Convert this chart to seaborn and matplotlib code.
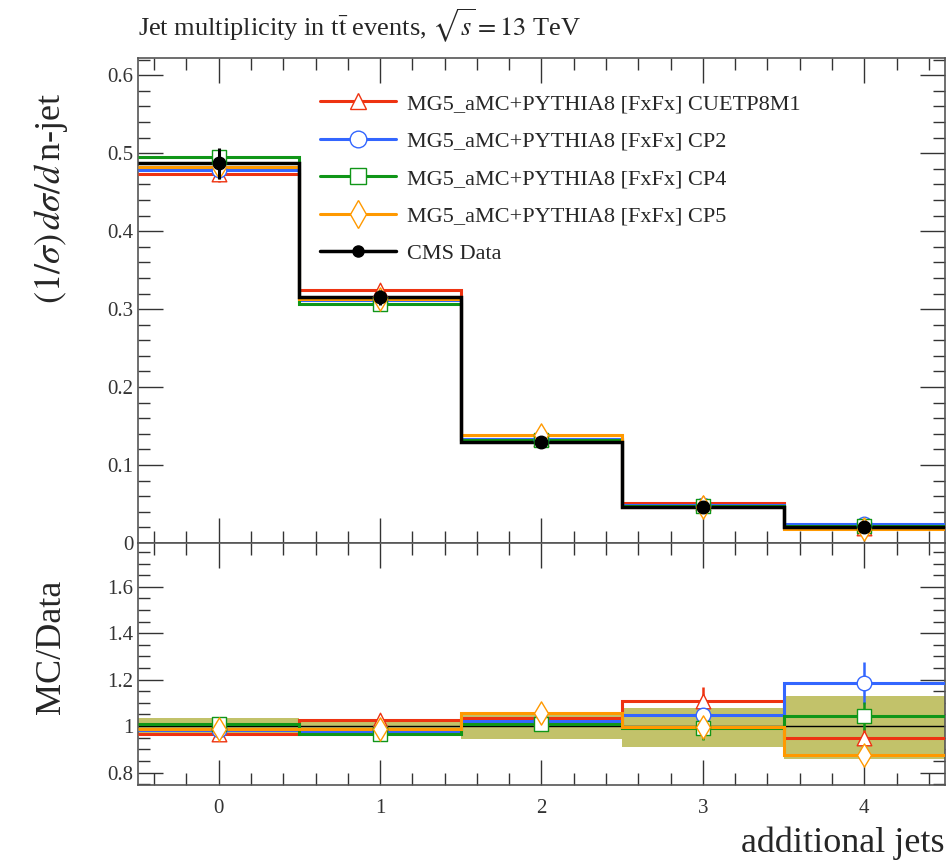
import matplotlib
matplotlib.use("Agg")
import matplotlib.pyplot as plt
import numpy as np
import pandas as pd
import seaborn as sns
from matplotlib.lines import Line2D
from matplotlib.ticker import MultipleLocator

sns.set_theme(style="ticks")
plt.rcParams["font.family"] = ["Liberation Serif", "DejaVu Serif"]
plt.rcParams["mathtext.fontset"] = "stix"

# ---- data ----
N_JETS = [0, 1, 2, 3, 4]

DATA_VAL = [0.487, 0.315, 0.130, 0.046, 0.0205]
DATA_ERR = [0.020, 0.010, 0.004, 0.003, 0.002]

LABELS = [
    "MG5_aMC+PYTHIA8 [FxFx] CUETP8M1",
    "MG5_aMC+PYTHIA8 [FxFx] CP2",
    "MG5_aMC+PYTHIA8 [FxFx] CP4",
    "MG5_aMC+PYTHIA8 [FxFx] CP5",
]
COLORS = ["#EE3311", "#3366FF", "#109618", "#FF9900"]
MARKERS = ["^", "o", "s", "d"]

MC_CUETP8M1 = [0.473, 0.324, 0.134, 0.051, 0.0195]
MC_CP2 = [0.479, 0.312, 0.133, 0.049, 0.0245]
MC_CP4 = [0.495, 0.306, 0.132, 0.047, 0.0215]
MC_CP5 = [0.482, 0.313, 0.138, 0.046, 0.0180]
MC_ERR = [0.010, 0.006, 0.003, 0.002, 0.002]

RATIO_CUETP8M1 = [0.965, 1.025, 1.035, 1.110, 0.950]
RATIO_CP2 = [0.982, 0.980, 1.023, 1.047, 1.187]
RATIO_CP4 = [1.010, 0.966, 1.009, 0.990, 1.043]
RATIO_CP5 = [0.987, 0.987, 1.057, 0.997, 0.875]
RATIO_ERR_CUETP8M1 = [0.02, 0.02, 0.02, 0.06, 0.04]
RATIO_ERR_CP2 = [0.02, 0.02, 0.02, 0.04, 0.09]
RATIO_ERR_CP4 = [0.02, 0.02, 0.03, 0.05, 0.06]
RATIO_ERR_CP5 = [0.02, 0.02, 0.02, 0.04, 0.04]

BAND_LO = [0.962, 0.970, 0.945, 0.910, 0.857]
BAND_HI = [1.035, 1.020, 1.050, 1.076, 1.130]
DATA_RATIO = [1.0, 1.0, 1.0, 1.0, 1.0]

MC_VALS = [MC_CUETP8M1, MC_CP2, MC_CP4, MC_CP5]
RATIO_VALS = [RATIO_CUETP8M1, RATIO_CP2, RATIO_CP4, RATIO_CP5]
RATIO_ERRS = [RATIO_ERR_CUETP8M1, RATIO_ERR_CP2, RATIO_ERR_CP4, RATIO_ERR_CP5]

edges = np.append(np.array(N_JETS) - 0.5, N_JETS[-1] + 0.5)


def style_axis(ax):
    ax.tick_params(which="both", direction="in", top=True, right=True, labelsize=15,
                   colors="#333333")
    ax.tick_params(which="major", length=18, width=1)
    ax.tick_params(which="minor", length=8.5, width=1)
    ax.xaxis.set_major_locator(MultipleLocator(1))
    ax.xaxis.set_minor_locator(MultipleLocator(0.2))
    ax.set_xlim(-0.5, 4.5)
    for sp in ax.spines.values():
        sp.set_linewidth(1.2)
        sp.set_color("#555555")


def draw_points(ax, x, y, err, color, marker, ms):
    df = pd.DataFrame({"x": x, "y": y})
    ax.errorbar(x, y, yerr=err, fmt="none", ecolor=color, elinewidth=1.8, zorder=4)
    sns.scatterplot(data=df, x="x", y="y", marker=marker, s=ms, facecolor="white",
                    edgecolor=color, linewidth=1.0, ax=ax, zorder=5, legend=False)


fig = plt.figure(figsize=(9.53, 8.64), dpi=100)
ax = fig.add_axes([0.1448, 0.3715, 0.8468, 0.5613])
rax = fig.add_axes([0.1448, 0.0914, 0.8468, 0.2801], sharex=ax)

# ---- main panel ----
for vals, c, m in zip(MC_VALS, COLORS, MARKERS):
    ax.stairs(vals, edges, color=c, linewidth=2.2, baseline=None, zorder=3)
    draw_points(ax, N_JETS, vals, MC_ERR, c, m, 110 if m != "d" else 140)
ax.stairs(DATA_VAL, edges, color="black", linewidth=2.5, baseline=None, zorder=3.5)
ax.errorbar(N_JETS, DATA_VAL, yerr=DATA_ERR, fmt="o", color="black", ms=9,
            elinewidth=2.2, zorder=6)

style_axis(ax)
ax.set_ylim(0, 0.622)
ax.set_yticks([0, 0.1, 0.2, 0.3, 0.4, 0.5, 0.6])
ax.set_yticklabels(["0", "0.1", "0.2", "0.3", "0.4", "0.5", "0.6"])
ax.yaxis.set_minor_locator(MultipleLocator(0.02))
ax.tick_params(labelbottom=False)
ax.set_xlabel("")
ax.set_ylabel(r"$(1/\sigma)\,d\sigma/d\,$n-jet", fontsize=26)
ax.yaxis.set_label_coords(-0.084, 0.71)
ax.set_title(r"Jet multiplicity in t$\bar{\mathrm{t}}$ events, $\sqrt{s} = 13$ TeV",
             loc="left", fontsize=19, pad=16)

handles = [Line2D([], [], color=c, marker=m, mfc="white", mec=c, ms=12 if m != "d" else 14,
                  lw=2.2, mew=1.0) for c, m in zip(COLORS, MARKERS)]
handles.append(Line2D([], [], color="black", marker="o", ms=8, lw=2.5))
ax.legend(handles, LABELS + ["CMS Data"], loc="upper left", bbox_to_anchor=(0.215, 0.945),
          frameon=False, fontsize=16, handlelength=3.4, labelspacing=0.76,
          borderaxespad=0, handletextpad=0.5)

# ---- ratio panel ----
for lo, hi, x0, x1 in zip(BAND_LO, BAND_HI, edges[:-1], edges[1:]):
    rax.fill_between([x0, x1], lo, hi, color="#c2c26a", linewidth=0, zorder=1)
rax.stairs(DATA_RATIO, edges, color="black", linewidth=1.0, baseline=None, zorder=2)
for vals, errs, c, m in zip(RATIO_VALS, RATIO_ERRS, COLORS, MARKERS):
    rax.stairs(vals, edges, color=c, linewidth=2.2, baseline=None, zorder=3)
    draw_points(rax, N_JETS, vals, errs, c, m, 110 if m != "d" else 140)

style_axis(rax)
rax.set_ylim(0.746, 1.789)
rax.set_yticks([0.8, 1.0, 1.2, 1.4, 1.6])
rax.set_yticklabels(["0.8", "1", "1.2", "1.4", "1.6"])
rax.yaxis.set_minor_locator(MultipleLocator(0.05))
rax.set_xticks(N_JETS)
rax.set_xticklabels([str(n) for n in N_JETS])
rax.tick_params(axis="x", pad=10)
rax.set_ylabel("MC/Data", fontsize=26)
rax.yaxis.set_label_coords(-0.087, 0.57)
rax.set_xlabel("additional jets", fontsize=26, loc="right", labelpad=6)

fig.savefig("out.png", dpi=100)
